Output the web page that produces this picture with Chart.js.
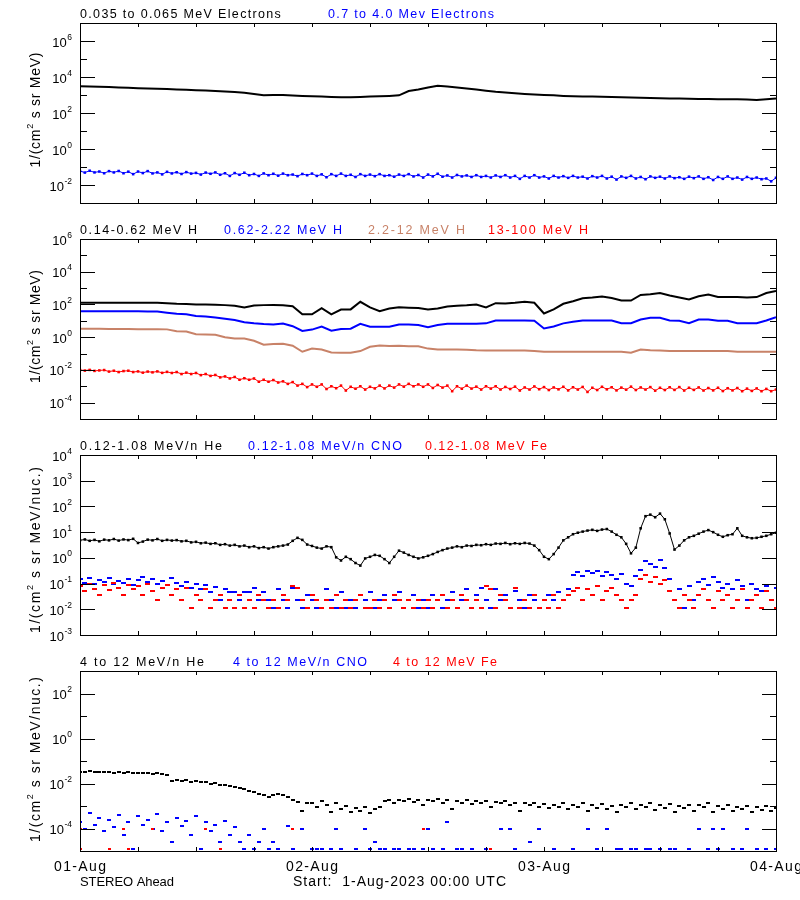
<!DOCTYPE html>
<html>
<head>
<meta charset="utf-8">
<script src="https://cdn.jsdelivr.net/npm/chart.js@4.4.1/dist/chart.umd.min.js"></script>
<style>
  html, body { margin: 0; padding: 0; background: #fff; }
  #wrap { position: relative; width: 800px; height: 900px; overflow: hidden; background: #fff; }
  canvas { position: absolute; left: 0; }
</style>
</head>
<body>
<div id="wrap">
  <canvas id="p1" width="800" height="216" style="top:0px"></canvas>
  <canvas id="p2" width="800" height="216" style="top:216px"></canvas>
  <canvas id="p3" width="800" height="216" style="top:432px"></canvas>
  <canvas id="p4" width="800" height="252" style="top:648px"></canvas>
</div>
<script>
// time axis: hours since 1-Aug-2023 00:00 UTC
const dayLabels = ['01-Aug', '02-Aug', '03-Aug', '04-Aug'];
const HOURLY = 1;
const HALF_HOURLY = 0.5;

// panel 1 - electrons (hourly / half-hourly samples)
const elec035 = [3100,2950,2880,2750,2630,2510,2400,2290,2240,2140, 2040,1950,1860,1780,1660,1550,1450,1320,1120,977,
  1000,1000,933,891,851,813,776,759,759,776, 813,851,891,955,1660,2000,2630,3310,2950,2630,
  2290,2000,1740,1510,1380,1260,1150,1070,1000,955, 891,851,832,813,794,776,741,724,708,692,
  661,631,631,617,603,603,589,589,589,562, 525,575,631];
const elec07 = [0.060,0.049,0.062,0.050,0.056,0.045,0.059,0.050,0.060,0.045,
  0.055,0.040,0.056,0.046,0.059,0.044,0.050,0.039,0.054,0.044,
  0.051,0.041,0.052,0.043,0.047,0.038,0.049,0.042,0.050,0.037,
  0.045,0.032,0.046,0.037,0.048,0.035,0.041,0.032,0.044,0.035,
  0.042,0.033,0.043,0.035,0.038,0.031,0.041,0.035,0.043,0.032,
  0.039,0.027,0.040,0.032,0.043,0.032,0.037,0.028,0.040,0.032,
  0.038,0.031,0.040,0.032,0.035,0.029,0.038,0.032,0.040,0.030,
  0.036,0.026,0.038,0.030,0.042,0.029,0.034,0.026,0.036,0.030,
  0.034,0.028,0.035,0.028,0.032,0.026,0.034,0.028,0.035,0.026,
  0.032,0.022,0.032,0.026,0.035,0.026,0.030,0.023,0.032,0.026,
  0.031,0.025,0.032,0.026,0.029,0.023,0.031,0.026,0.032,0.023,
  0.029,0.020,0.030,0.025,0.032,0.023,0.028,0.021,0.030,0.025,
  0.029,0.023,0.030,0.024,0.027,0.022,0.029,0.024,0.030,0.022,
  0.027,0.019,0.028,0.022,0.030,0.022,0.026,0.020,0.028,0.022,
  0.026,0.021,0.023,0.016,0.025];

// panel 2 - protons
const prot014 = [126,126,126,126,126,126,126,126,126,120, 110,107,100,100,95,91,83,66,87,91,
  93,89,79,25,25,60,25,49,50,145, 66,39,56,68,63,60,50,56,76,83,
  89,100,66,120,115,126,145,126,28,50, 110,158,240,263,302,251,174,174,380,417,
  501,355,269,200,316,398,282,282,282,269, 282,501,661];
const prot062 = [38.9,38.9,38.9,38.9,38.9,38,38,37,37,31.6, 26.9,25.1,20,18.2,15.8,13.2,11.2,8.3,7.1,6.3,
  6.0,6.9,4.7,2.4,2.9,4.4,2.5,3.2,3.3,6.6, 4.4,4.4,4.4,6.0,6.0,5.5,4.1,5.5,6.6,6.6,
  6.6,6.6,7.0,10.5,10.5,10.5,10.5,10.0,3.4,4.5, 7.0,8.7,10.5,10.5,10.5,10.5,7.2,7.2,12,15.5,
  15.5,10.5,10,7.2,12,12,10,10,7.2,7.2, 7.2,10.5,16.6];
const prot22 = [3.24,3.24,3.24,3.16,3.16,3.16,3.1,3.05,3.05,3.0, 2.34,2.2,1.5,1.48,1.4,1.0,0.83,0.83,0.6,0.35,
  0.38,0.40,0.30,0.129,0.2,0.178,0.115,0.112,0.112,0.141, 0.257,0.31,0.29,0.30,0.28,0.28,0.2,0.178,0.178,0.178,
  0.17,0.158,0.155,0.155,0.155,0.155,0.155,0.145,0.129,0.129, 0.129,0.129,0.129,0.129,0.129,0.129,0.129,0.112,0.178,0.16,
  0.155,0.145,0.141,0.141,0.141,0.141,0.141,0.141,0.129,0.129, 0.129,0.129,0.129];
const prot13 = [1.0e-2,9.1e-3,1.0e-2,8.7e-3,9.3e-3,9.8e-3,7.9e-3,8.9e-3,7.4e-3,8.5e-3,
  8.9e-3,7.4e-3,8.1e-3,6.8e-3,7.9e-3,7.1e-3,8.1e-3,6.6e-3,7.6e-3,6.5e-3,
  7.4e-3,5.6e-3,6.8e-3,5.6e-3,6.5e-3,4.8e-3,5.6e-3,4.3e-3,4.9e-3,3.5e-3,
  4.0e-3,3.0e-3,3.7e-3,2.5e-3,3.1e-3,2.5e-3,3.0e-3,1.9e-3,2.5e-3,1.9e-3,
  2.4e-3,1.7e-3,2.0e-3,1.4e-3,1.8e-3,1.1e-3,1.4e-3,8.9e-4,1.3e-3,9.3e-4,
  1.3e-3,6.8e-4,1.0e-3,7.6e-4,1.1e-3,5.5e-4,9.3e-4,7.1e-4,1.0e-3,6.3e-4,
  9.3e-4,7.4e-4,1.1e-3,7.4e-4,1.1e-3,8.3e-4,1.3e-3,9.5e-4,1.4e-3,1.0e-3,
  1.3e-3,9.3e-4,1.3e-3,7.9e-4,1.2e-3,8.3e-4,1.1e-3,5.0e-4,1.0e-3,7.1e-4,
  1.1e-3,7.2e-4,9.5e-4,6.3e-4,1.0e-3,7.2e-4,1.0e-3,6.3e-4,9.1e-4,6.8e-4,
  9.5e-4,5.5e-4,8.5e-4,6.3e-4,9.8e-4,6.6e-4,8.9e-4,5.9e-4,8.5e-4,6.5e-4,
  9.3e-4,5.6e-4,8.7e-4,6.3e-4,9.1e-4,4.5e-4,8.1e-4,5.9e-4,9.3e-4,6.5e-4,
  8.7e-4,5.6e-4,8.3e-4,6.2e-4,9.5e-4,5.9e-4,8.5e-4,6.3e-4,8.9e-4,5.4e-4,
  8.1e-4,5.9e-4,8.7e-4,6.0e-4,8.9e-4,5.5e-4,8.1e-4,6.0e-4,8.5e-4,5.5e-4,
  7.8e-4,5.6e-4,8.1e-4,5.1e-4,7.6e-4,5.6e-4,7.8e-4,5.0e-4,7.2e-4,5.2e-4,
  7.4e-4,5.0e-4,6.9e-4,5.0e-4,6.3e-4];

// panel 3 - 0.12-1.08 MeV/n heavy ions (half-hourly)
const he012 = [4.8,5.2,4.6,5.0,4.4,5.1,4.8,5.4,4.7,5.2, 4.9,5.5,3.8,4.3,5.1,4.8,5.4,4.6,5.0,4.7,
  4.9,4.4,4.6,4.0,4.2,3.7,3.9,3.5,3.7,3.2, 3.4,3.0,3.2,2.8,3.0,2.6,2.8,2.4,2.6,2.3,
  2.6,2.8,3.0,3.3,4.6,6.0,5.0,3.3,2.9,2.5, 2.3,2.8,2.6,1.05,0.79,1.1,0.89,0.63,0.50,0.95,
  1.1,1.3,1.2,0.89,0.63,1.1,1.9,1.6,1.3,1.1, 0.95,1.05,1.2,1.4,1.7,2.0,2.3,2.5,2.8,2.6,
  3.0,2.9,3.2,3.1,3.4,3.2,3.6,3.5,3.8,3.4, 3.7,3.5,3.8,3.6,3.0,2.0,1.1,0.89,1.4,2.5,
  4.8,6.3,8.3,9.5,10.5,11.5,12.3,11.2,12.6,13.2, 10.5,7.9,6.3,3.5,1.5,2.5,14.1,41.7,47.9,38,
  52.5,31.6,8.9,2.1,3.0,4.8,6.3,7.2,8.7,10.5, 12,10,7.9,6.6,7.6,8.3,14.1,7.2,6.3,5.8,
  6.0,6.6,7.2,8.3,9.5];
const cno012 = [0.15,0.11,0.17,0.10,0.14,0.12,0.16,0.095,0.13,0.11,0.15,0.09,0.14,0.18,0.12,0.15,0.10,0.13,0.09,0.16,0.11,
  0.08,0.12,0.07,0.10,0.06,0.09,0.049,0.075,0.0235,0.06,
  0.049,0.049,0.0235,0.049,0.049,0.07,0.0235,0.049,
  0.0235,0.0115,0.06,0.0235,0.0115,0.07,0.0235,0.0115,0.036,0.0235,0.0115,null,0.06,0.0235,0.0115,0.049,
  0.0115,0.0235,0.0115,null,0.0235,0.049,0.0115,0.0235,0.036,0.0115,0.0235,0.049,0.0115,0.0235,0.036,0.0115,
  0.0235,0.0115,0.036,0.0235,0.0115,0.0235,0.049,0.0115,0.0235,0.06,0.0115,0.036,0.07,0.0235,0.0115,0.06,0.0235,0.036,0.0115,0.05,0.0235,0.0115,0.036,0.0235,
  0.0115,0.0235,0.036,0.0235,0.049,0.0235,0.06,
  0.22,0.28,0.20,0.32,0.25,0.30,0.19,0.27,0.22,0.15,0.24,0.10,0.08,0.20,
  0.35,0.75,0.60,0.45,0.85,0.40,0.15,
  0.0235,0.06,0.0115,0.08,0.0235,0.12,0.15,0.09,0.18,0.12,0.07,0.10,0.06,0.14,0.08,0.0235,0.10,0.06,0.05,0.08,0.0235,0.07];
const fe012 = [0.08,0.05,0.10,0.06,0.036,0.09,0.055,0.11,0.07,0.036,0.09,0.06,0.08,0.036,0.10,0.05,0.0235,0.07,0.09,0.036,0.06,
  0.0235,0.07,0.0115,0.036,0.0235,0.06,0.0115,0.0235,0.036,0.0115,
  0.0235,0.0115,0.036,0.0115,0.0235,0.0115,0.036,0.0235,
  0.0115,0.0235,0.0115,0.036,0.0235,0.08,0.07,0.0235,0.0115,0.036,0.0235,0.0115,0.0235,0.0115,0.036,0.0115,
  0.0235,0.0115,0.0235,0.036,0.0115,0.0115,0.0235,0.0115,0.0235,0.0115,0.036,0.0235,0.0115,0.0235,0.0115,0.0235,
  0.0115,0.0235,0.0115,0.0235,0.036,0.0115,0.0235,0.0115,0.036,0.0235,0.0115,0.0235,0.0115,0.08,0.06,0.0115,0.036,0.0235,0.0115,0.07,0.0115,0.0235,0.0115,0.036,
  0.0115,0.0235,0.0115,0.036,0.0115,0.0235,0.036,
  0.05,0.07,0.0235,0.06,0.036,0.08,0.0235,0.05,0.07,0.036,0.0235,0.0115,0.0235,0.036,
  0.15,0.22,0.12,0.18,0.10,0.14,0.05,
  0.0235,0.0115,0.036,0.0235,0.0115,0.036,0.06,0.0235,0.0115,0.05,0.0235,0.036,0.0115,0.0235,0.06,0.0115,0.0235,0.036,0.0115,0.05,0.0235,0.0115];

// panel 4 - 4 to 12 MeV/n heavy ions
const he4 = [0.034,0.032,0.035,0.032,0.033,0.031,0.033,0.030,0.032,0.030,0.031,0.028,0.030,0.028,0.029,0.027,0.028,0.026,0.025,
  0.0132,0.0141,0.0126,0.0138,0.0120,0.0129,0.0112,0.0117,0.0100,0.0105,0.0089,0.0087,0.0076,0.0071,0.0063,0.0055,0.0048,0.0042,0.0035,0.0030,
  0.0026,0.0032,0.0035,0.0032,0.0025,0.0019,0.0015,6.3e-4,0.0013,
  0.0013,8.9e-4,0.0016,0.0011,5.6e-4,0.0013,7.1e-4,0.0010,5.6e-4,7.9e-4,6.3e-4,8.9e-4,5.0e-4,7.1e-4,8.9e-4,0.0016,
  0.0018,0.0014,0.0019,0.0016,0.0020,0.0015,0.0018,0.0011,0.0019,0.0016,0.0021,0.0014,0.0018,7.1e-4,0.0017,0.0014,
  0.0018,0.0012,0.0016,0.0013,0.0017,8.9e-4,0.0015,0.0013,0.0017,0.0011,0.0014,6.3e-4,0.0014,0.0011,0.0013,8.9e-4,
  0.0012,7.9e-4,0.0011,9.5e-4,0.0013,7.1e-4,0.0011,8.9e-4,0.0013,6.3e-4,0.0011,8.3e-4,0.0012,7.6e-4,0.0010,5.6e-4,
  0.0011,8.9e-4,0.0013,7.1e-4,0.0011,9.5e-4,0.0013,6.6e-4,0.0011,8.3e-4,0.0012,5.6e-4,0.0010,7.9e-4,0.0011,6.3e-4,
  0.0011,8.7e-4,0.0013,5.2e-4,0.0010,7.6e-4,0.0011,6.0e-4,9.5e-4,7.1e-4,0.0010,5.6e-4,8.9e-4,6.6e-4,0.0010,6.0e-4,8.3e-4];
const cno4 = [2.0e-4,1.0e-4,5.0e-4,1.5e-4,3.0e-4,8.0e-5,2.5e-4,1.2e-4,4.0e-4,5.0e-5,2.0e-4,1.2e-5,3.5e-4,1.5e-4,2.5e-4,1.0e-4,
  4.5e-4,8.0e-5,2.0e-4,2.5e-5,3.0e-4,1.3e-4,2.2e-4,5.0e-5,3.5e-4,1.2e-5,2.0e-4,8.0e-5,1.5e-4,2.5e-5,2.2e-4,5.0e-5,
  1.2e-4,2.5e-5,1.2e-5,5.0e-5,1.2e-5,2.5e-5,1.0e-4,1.2e-5,2.5e-5,1.2e-5,null,1.3e-4,1.2e-5,null,1.0e-4,null,1.2e-5,
  1.2e-5,1.2e-5,null,1.2e-5,1.0e-4,1.2e-5,null,null,1.2e-5,null,1.0e-4,1.2e-5,2.5e-5,1.2e-5,1.2e-5,null,1.2e-5,1.2e-5,null,1.2e-5,1.2e-5,null,1.2e-5,1.0e-4,
  1.2e-5,null,1.2e-5,2.0e-4,null,1.2e-5,1.2e-5,null,1.2e-5,null,
  null,1.2e-5,null,null,1.0e-4,null,1.0e-4,1.2e-5,null,null,
  2.5e-5,null,1.0e-4,null,null,1.2e-5,null,null,null,1.2e-5,
  null,null,1.0e-4,null,1.2e-5,null,1.0e-4,null,1.2e-5,1.2e-5,
  null,1.2e-5,1.2e-5,null,1.2e-5,1.2e-5,null,1.2e-5,null,1.2e-5,
  1.2e-5,null,null,1.2e-5,null,1.0e-4,null,1.2e-5,1.0e-4,1.2e-5,
  1.0e-4,null,1.2e-5,null,1.2e-5,1.0e-4,null,1.2e-5,null,1.2e-5,
  null,1.2e-5];
const fe4Hours = [0, 0, 3, 4.5, 5, 7.5, 13, 14.5, 22, 35.5, 42.5];
const fe4 = [1.0e-4, 1.2e-5, 1.2e-5, 1.0e-4, 1.2e-5, 1.0e-4, 1.0e-4, 1.2e-5, 1.0e-4, 1.0e-4, 1.2e-5];

const BLACK = '#000000';
const BLUE = '#0000ff';
const RED = '#ff0000';
const BROWN = 'rgb(200,130,104)';
const FONT = '"Liberation Sans", Arial, sans-serif';

function toPoints(values, step) {
    return values.map((v, i) => ({ x: i * step, y: v })).filter(p => p.y !== null);
}

function lineSet(values, step, color) {
    return { data: toPoints(values, step), showLine: true, borderColor: color, borderWidth: 2, pointRadius: 0, tension: 0 };
}

// dots; a thin joining line fills in the tight bands of the dense originals
function dotSet(points, color, joined, size) {
    return {
        data: points, showLine: !!joined, borderColor: color, borderWidth: joined ? 1 : 0, tension: 0,
        pointStyle: 'rect', pointRadius: size || 1.8,
        pointBorderWidth: 0, backgroundColor: color, pointBackgroundColor: color
    };
}

// short horizontal dash marker, for the count-rate rows of the ion channels
function dashMarker(color, w, h) {
    const c = document.createElement('canvas');
    c.width = w;
    c.height = h;
    const g = c.getContext('2d');
    g.fillStyle = color;
    g.fillRect(0, 0, w, h);
    return c;
}

function dashSet(points, color, w) {
    return {
        data: points, showLine: false, borderWidth: 0,
        pointStyle: dashMarker(color, w, 2), pointRadius: 2,
        pointBorderWidth: 0, backgroundColor: color, pointBackgroundColor: color
    };
}

// stretch a text to the width it takes in the original plot
function fitText(ctx, text, left, baseline, width) {
    ctx.letterSpacing = '0px';
    const w = ctx.measureText(text).width;
    const gap = text.length > 1 ? (width - w) / (text.length - 1) : 0;
    ctx.letterSpacing = gap.toFixed(2) + 'px';
    ctx.textAlign = 'left';
    ctx.fillText(text, left, baseline);
    ctx.letterSpacing = '0px';
}

function drawYTitle(ctx, parts, cx, cy, len) {
    const fonts = parts.map(p => (p[1] ? '9px ' : '14px ') + FONT);
    let total = 0, chars = 0;
    ctx.letterSpacing = '0px';
    parts.forEach((p, i) => { ctx.font = fonts[i]; total += ctx.measureText(p[0]).width; chars += p[0].length; });
    const gap = (len - total) / (chars - 1);
    ctx.save();
    ctx.translate(cx, cy);
    ctx.rotate(-Math.PI / 2);
    ctx.textAlign = 'left';
    let pos = -len / 2;
    parts.forEach((p, i) => {
        ctx.font = fonts[i];
        ctx.letterSpacing = '0px';
        const w = ctx.measureText(p[0]).width;
        ctx.letterSpacing = gap.toFixed(2) + 'px';
        ctx.fillText(p[0], pos, p[1] ? -2 : 5);
        pos += w + gap * p[0].length;
    });
    ctx.restore();
    ctx.letterSpacing = '0px';
}

function panelDecor(cfg) {
    return {
        id: 'panelDecor',
        afterDraw(chart) {
            const ctx = chart.ctx;
            const a = chart.chartArea;
            const xs = chart.scales.x;
            const ys = chart.scales.y;
            ctx.save();
            ctx.strokeStyle = BLACK;
            ctx.fillStyle = BLACK;
            ctx.lineWidth = 1;
            ctx.strokeRect(a.left + 0.5, a.top + 0.5, a.right - a.left, a.bottom - a.top);

            ctx.beginPath();
            for (let h = 6; h < 72; h += 6) {
                const px = Math.round(xs.getPixelForValue(h)) + 0.5;
                ctx.moveTo(px, a.top); ctx.lineTo(px, a.top + 4);
                ctx.moveTo(px, a.bottom + 1); ctx.lineTo(px, a.bottom - 4);
            }
            const eMin = Math.round(Math.log10(ys.min));
            const eMax = Math.round(Math.log10(ys.max));
            for (let e = eMin + 1; e < eMax; e++) {
                const py = Math.round(ys.getPixelForValue(Math.pow(10, e))) + 0.5;
                const len = (e % cfg.labelEvery === 0) ? 15 : 7;
                ctx.moveTo(a.left, py); ctx.lineTo(a.left + len, py);
                ctx.moveTo(a.right + 1, py); ctx.lineTo(a.right + 1 - len, py);
            }
            ctx.stroke();

            // decade labels 10^e
            ctx.textAlign = 'right';
            for (let e = eMin; e <= eMax; e++) {
                if (e % cfg.labelEvery !== 0) continue;
                const py = ys.getPixelForValue(Math.pow(10, e));
                const sup = String(e);
                ctx.font = '8.5px ' + FONT;
                const sw = ctx.measureText(sup).width;
                ctx.fillText(sup, 72, py - 1.5);
                ctx.font = '13px ' + FONT;
                ctx.fillText('10', 72 - sw - 0.5, py + 5.5);
            }

            drawYTitle(ctx, cfg.yTitle, 35, cfg.yTitleMid, cfg.yTitleLen);

            ctx.font = '12.5px ' + FONT;
            cfg.titles.forEach(t => {
                ctx.fillStyle = t[1];
                fitText(ctx, t[0], t[2], 18, t[3]);
            });

            if (cfg.footer) {
                ctx.fillStyle = BLACK;
                ctx.font = '14px ' + FONT;
                dayLabels.forEach((lab, i) => {
                    const cx = xs.getPixelForValue(i * 24);
                    fitText(ctx, lab, cx - 26, a.bottom + 19.7, 52);
                });
                fitText(ctx, 'Start:  1-Aug-2023 00:00 UTC', 293, a.bottom + 35, 213);
                ctx.font = '13px ' + FONT;
                fitText(ctx, 'STEREO Ahead', 80, a.bottom + 35, 94);
            }
            ctx.restore();
        }
    };
}

const unitTitle = [['1/(cm', false], ['2', true], [' s sr MeV)', false]];
const nucTitle = [['1/(cm', false], ['2', true], [' s sr MeV/nuc.)', false]];

const panels = [
    {
        id: 'p1', height: 216, min: 1e-3, max: 1e7, labelEvery: 2,
        yTitle: unitTitle, yTitleLen: 115, yTitleMid: 110,
        titles: [['0.035 to 0.065 MeV Electrons', BLACK, 80, 201], ['0.7 to 4.0 Mev Electrons', BLUE, 328, 166]],
        datasets: [lineSet(elec035, HOURLY, BLACK), dotSet(toPoints(elec07, HALF_HOURLY), BLUE, true)]
    },
    {
        id: 'p2', height: 216, min: 1e-5, max: 1e6, labelEvery: 2,
        yTitle: unitTitle, yTitleLen: 113, yTitleMid: 110.5,
        titles: [['0.14-0.62 MeV H', BLACK, 80, 117], ['0.62-2.22 MeV H', BLUE, 224, 118],
                 ['2.2-12 MeV H', BROWN, 368, 97], ['13-100 MeV H', RED, 488, 100]],
        datasets: [lineSet(prot014, HOURLY, BLACK), lineSet(prot062, HOURLY, BLUE),
                   lineSet(prot22, HOURLY, BROWN), dotSet(toPoints(prot13, HALF_HOURLY), RED, true)]
    },
    {
        id: 'p3', height: 216, min: 1e-3, max: 1e4, labelEvery: 1,
        yTitle: nucTitle, yTitleLen: 166, yTitleMid: 118,
        titles: [['0.12-1.08 MeV/n He', BLACK, 80, 142], ['0.12-1.08 MeV/n CNO', BLUE, 248, 154],
                 ['0.12-1.08 MeV Fe', RED, 425, 122]],
        datasets: [dotSet(toPoints(he012, HALF_HOURLY), BLACK, true), dashSet(toPoints(cno012, HALF_HOURLY), BLUE, 5),
                   dashSet(toPoints(fe012, HALF_HOURLY), RED, 5)]
    },
    {
        id: 'p4', height: 252, min: 1e-5, max: 1e3, labelEvery: 2, footer: true,
        yTitle: nucTitle, yTitleLen: 165, yTitleMid: 111.5,
        titles: [['4 to 12 MeV/n He', BLACK, 80, 124], ['4 to 12 MeV/n CNO', BLUE, 233, 134],
                 ['4 to 12 MeV Fe', RED, 393, 104]],
        datasets: [dashSet(toPoints(he4, HALF_HOURLY), BLACK, 4), dashSet(toPoints(cno4, HALF_HOURLY), BLUE, 4),
                   dashSet(fe4Hours.map((h, i) => ({ x: h, y: fe4[i] })), RED, 3)]
    }
];

panels.forEach(p => {
    const canvas = document.getElementById(p.id);
    new Chart(canvas, {
        type: 'scatter',
        data: {
            datasets: p.datasets.map((d, i, all) => Object.assign({ order: all.length - i }, d))
        },
        options: {
            responsive: false,
            animation: false,
            devicePixelRatio: 1,
            events: [],
            layout: { padding: { top: 23, right: 24, left: 0, bottom: 0 } },
            plugins: { legend: { display: false }, tooltip: { enabled: false } },
            scales: {
                x: {
                    type: 'linear', min: 0, max: 72,
                    grid: { display: false }, border: { display: false }, ticks: { display: false },
                    afterFit: s => { s.height = p.height - 203; s.paddingLeft = 0; s.paddingRight = 0; }
                },
                y: {
                    type: 'logarithmic', min: p.min, max: p.max,
                    grid: { display: false }, border: { display: false }, ticks: { display: false },
                    afterFit: s => { s.width = 80; s.paddingTop = 0; s.paddingBottom = 0; }
                }
            }
        },
        plugins: [panelDecor(p)]
    });
});
</script>
</body>
</html>
